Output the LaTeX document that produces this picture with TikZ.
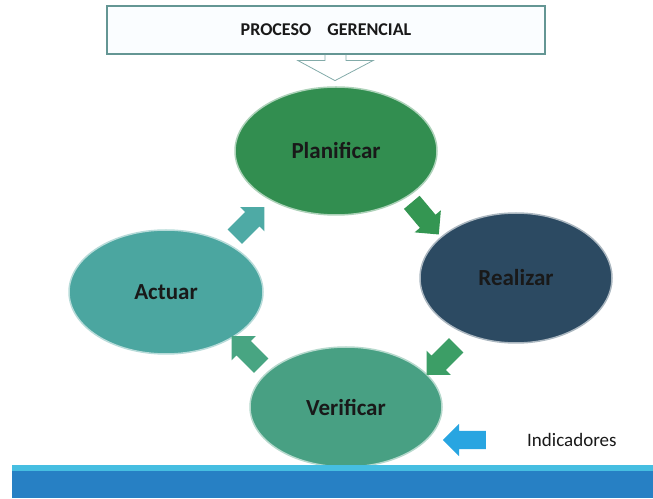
\documentclass[tikz,border=0pt]{standalone}
\usepackage{fontspec}
\setmainfont{Carlito}
\usepackage{tikz}
\usetikzlibrary{arrows.meta, positioning, shapes.geometric, shapes.arrows, calc}

\definecolor{planC}{RGB}{50,142,80}
\definecolor{realC}{RGB}{44,74,98}
\definecolor{verifC}{RGB}{72,160,131}
\definecolor{actC}{RGB}{75,166,160}
\definecolor{arrA}{RGB}{52,150,82}
\definecolor{arrB}{RGB}{60,158,102}
\definecolor{arrC}{RGB}{72,165,130}
\definecolor{arrD}{RGB}{78,170,165}
\definecolor{indC}{RGB}{40,165,225}
\definecolor{boxC}{RGB}{100,150,148}
\definecolor{barC}{RGB}{39,128,196}
\definecolor{lineC}{RGB}{70,190,225}
\definecolor{txtC}{RGB}{25,25,25}

\begin{document}
\begin{tikzpicture}[x=1pt, y=1pt,
    phase/.style={ellipse, inner sep=0pt, draw=white!60!#1, line width=1.5pt, fill=#1,
        text=txtC, font=\fontsize{23}{26}\selectfont\bfseries},
    fatarrow/.style={single arrow, inner xsep=0pt, inner ysep=10pt, minimum height=42pt,
        single arrow head extend=7pt, fill=#1, draw=none}]
    \useasboundingbox (0, 0) rectangle (653, 498);

    % Title box with pointer
    \node[draw=boxC, line width=1.2pt, fill=cyan!2, minimum width=438pt, minimum height=48pt,
        text=txtC, font=\fontsize{18}{21}\selectfont\bfseries] (title) at (326, 468)
        {PROCESO\hspace{0.9em}GERENCIAL};
    \draw[boxC!80, line width=0.8pt] ([xshift=-1pt]title.south) -- ++(0, -6) -- ++(-27, 0)
        -- ++(37, -20) -- ++(38, 20) -- ++(-27, 0) -- ([xshift=20pt]title.south);

    % Cycle
    \node[phase=planC, minimum width=202pt, minimum height=128pt] (plan) at (336, 347) {Planificar};
    \node[phase=realC, minimum width=192pt, minimum height=130pt] (real) at (516, 220) {Realizar};
    \node[phase=verifC, minimum width=192pt, minimum height=120pt] (verif) at (346, 91) {Verificar};
    \node[phase=actC, minimum width=194pt, minimum height=124pt] (act) at (166, 206) {Actuar};

    \node[fatarrow=arrA, rotate=-50] (a1) at ($(plan)!0.5!(real)+(-4, 0)$) {};
    \node[fatarrow=arrB, rotate=-135] (a2) at ($(real)!0.5!(verif)+(14, -14)$) {};
    \node[fatarrow=arrC, rotate=135] (a3) at ($(verif)!0.5!(act)+(-6, -5)$) {};
    \node[fatarrow=arrD, rotate=45] (a4) at ($(act)!0.5!(plan)+(-5, -4)$) {};

    % Indicators
    \node[text=txtC, inner sep=0pt, font=\fontsize{19}{22}\selectfont, anchor=west] (ind) at (527, 58) {Indicadores};
    \node[fatarrow=indC, shape border rotate=180, minimum height=43pt, inner ysep=9pt,
        left=41pt of ind] (indarr) {};

    % Bottom band
    \fill[lineC] (12, 27) rectangle (653, 33);
    \fill[barC] (12, 0) rectangle (653, 27);
\end{tikzpicture}
\end{document}
